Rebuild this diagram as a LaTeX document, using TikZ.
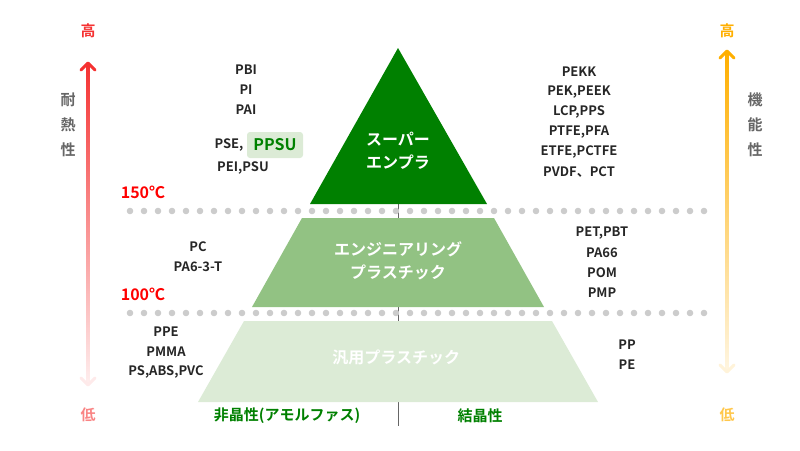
\documentclass[tikz,border=0pt]{standalone}
\usepackage{fontspec}
\setmainfont{Noto Sans CJK JP}[BoldFont={Noto Sans CJK JP Bold}]
\usepackage{tikz}
\definecolor{dark}{RGB}{0, 128, 0}
\definecolor{mid}{RGB}{146, 194, 131}
\definecolor{light}{RGB}{220, 235, 214}
\definecolor{heat}{RGB}{245, 50, 50}
\definecolor{func}{RGB}{255, 175, 0}
\definecolor{dots}{RGB}{204, 204, 204}
\tikzset{
  lbl/.style={font=\bfseries\fontsize{13}{15}\selectfont, text=black!85},
  tier/.style={font=\bfseries\fontsize{16}{23}\selectfont, text=white, align=center},
  temp/.style={font=\bfseries\fontsize{16}{18}\selectfont, text=red},
  axis/.style={font=\bfseries\fontsize{15}{25}\selectfont, text=black!60, align=center},
  ends/.style={font=\bfseries\fontsize{15}{17}\selectfont}
}
\begin{document}
\begin{tikzpicture}[x=1pt, y=-1pt]

  \useasboundingbox (0, 0) rectangle (800, 450);

  % pyramid
  \draw [color=black!60, line width=0.8] (398, 204) -- (398, 426);
  \fill [color=dark] (398, 48) -- (487, 204) -- (310, 204) -- cycle;
  \fill [color=mid] (302, 218) -- (494, 218) -- (544, 307) -- (252, 307) -- cycle;
  \fill [color=light] (244, 321) -- (552, 321) -- (598, 402) -- (198, 402) -- cycle;

  \node [tier] (super) at (398, 151) { スーパー\\エンプラ };
  \node [tier] (engi) at (398, 261) { エンジニアリング\\プラスチック };
  \node [tier] (gen) at (398, 357) { 汎用プラスチック };

  % temperature lines
  \foreach \y in {211, 313}
    \foreach \i in {0,...,41}
      \fill [color=dots] (130 + 14*\i, \y) circle (3.3);
  \node [temp] (t150) at (143, 192) { 150℃ };
  \node [temp] (t100) at (143, 294) { 100℃ };

  % heat resistance axis
  \shade [top color=heat, bottom color=heat!8] (86.5, 64) rectangle (89.5, 384);
  \draw [color=heat, line width=3, line cap=round, line join=round]
    (81, 70) -- (88, 63) -- (95, 70);
  \draw [color=heat!10, line width=3, line cap=round, line join=round]
    (81, 378) -- (88, 385) -- (95, 378);
  \node [ends, text=heat] (hhi) at (88, 31) { 高 };
  \node [ends, text=heat!60] (hlo) at (88, 415) { 低 };
  \node [axis] (heat) at (68, 125) { 耐\\熱\\性 };

  % function axis
  \shade [top color=func, bottom color=func!12] (725.5, 52) rectangle (728.5, 370);
  \draw [color=func, line width=3, line cap=round, line join=round]
    (720, 58) -- (727, 51) -- (734, 58);
  \draw [color=func!15, line width=3, line cap=round, line join=round]
    (720, 365) -- (727, 372) -- (734, 365);
  \node [ends, text=func] (fhi) at (727, 31) { 高 };
  \node [ends, text=func!70] (flo) at (727, 415) { 低 };
  \node [axis] (func) at (755, 125) { 機\\能\\性 };

  % amorphous
  \node [lbl] (pbi) at (246, 70) { PBI };
  \node [lbl] (pi) at (246, 90) { PI };
  \node [lbl] (pai) at (246, 110) { PAI };
  \node [lbl] (pse) at (229, 145) { PSE, };
  \node [fill=light, rounded corners=3pt, minimum width=56, minimum height=26,
         font=\bfseries\fontsize{16}{18}\selectfont, text=dark] (ppsu) at (275, 145) { PPSU };
  \node [lbl] (pei) at (243, 168) { PEI,PSU };
  \node [lbl] (pc) at (198, 247) { PC };
  \node [lbl] (pa6) at (198, 267) { PA6-3-T };
  \node [lbl] (ppe) at (166, 332) { PPE };
  \node [lbl] (pmma) at (166, 352) { PMMA };
  \node [lbl] (ps) at (166, 372) { PS,ABS,PVC };

  % crystalline
  \node [lbl] (pekk) at (579, 72) { PEKK };
  \node [lbl] (peek) at (579, 92) { PEK,PEEK };
  \node [lbl] (lcp) at (579, 112) { LCP,PPS };
  \node [lbl] (ptfe) at (579, 132) { PTFE,PFA };
  \node [lbl] (etfe) at (579, 152) { ETFE,PCTFE };
  \node [lbl] (pvdf) at (579, 172) { PVDF、PCT };
  \node [lbl] (pet) at (602, 233) { PET,PBT };
  \node [lbl] (pa66) at (602, 253) { PA66 };
  \node [lbl] (pom) at (602, 273) { POM };
  \node [lbl] (pmp) at (602, 293) { PMP };
  \node [lbl] (pp) at (627, 345) { PP };
  \node [lbl] (pe) at (627, 365) { PE };

  \node [ends, text=dark] (amor) at (287, 416) { 非晶性(アモルファス) };
  \node [ends, text=dark] (cryst) at (480, 416) { 結晶性 };

\end{tikzpicture}
\end{document}
